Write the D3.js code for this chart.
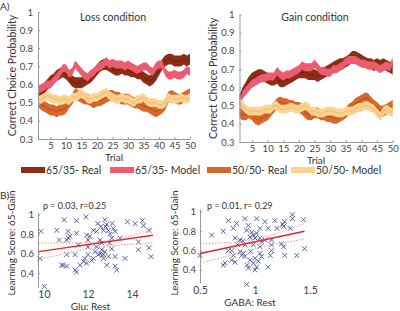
<!DOCTYPE html>
<html>
<head>
<meta charset="utf-8">
<script src="https://cdn.jsdelivr.net/npm/d3@7"></script>
<style>
  body { margin: 0; background: #fff; }
  text { font-family: Lato, "Open Sans", sans-serif; fill: #333; }
  .axis path, .axis line { stroke: #999; }
  .axis text { font-size: 9.5px; fill: #444; }
</style>
</head>
<body>
<div id="chart"></div>
<script>
'use strict';

// ---- data ----
const trials = d3.range(1, 51);

const lossReal65 = [0.55,0.57,0.58,0.60,0.62,0.63,0.65,0.66,0.67,0.66,
  0.64,0.62,0.61,0.61,0.61,0.62,0.63,0.64,0.66,0.68,
  0.70,0.71,0.71,0.70,0.69,0.68,0.68,0.69,0.68,0.68,
  0.67,0.67,0.66,0.66,0.64,0.63,0.62,0.63,0.65,0.68,
  0.71,0.73,0.74,0.74,0.73,0.73,0.73,0.74,0.73,0.74];
const lossModel65 = [0.57,0.58,0.59,0.60,0.60,0.62,0.64,0.66,0.69,0.69,
  0.66,0.67,0.71,0.69,0.67,0.65,0.64,0.66,0.67,0.69,
  0.70,0.71,0.73,0.71,0.72,0.71,0.71,0.71,0.70,0.71,
  0.70,0.69,0.68,0.69,0.70,0.70,0.68,0.67,0.70,0.71,
  0.71,0.67,0.65,0.65,0.66,0.65,0.65,0.66,0.68,0.67];
const lossReal50 = [0.51,0.49,0.48,0.47,0.46,0.46,0.45,0.46,0.46,0.47,
  0.50,0.52,0.55,0.54,0.53,0.52,0.52,0.51,0.50,0.51,
  0.51,0.52,0.53,0.54,0.54,0.53,0.53,0.52,0.52,0.52,
  0.51,0.50,0.50,0.49,0.48,0.48,0.47,0.46,0.45,0.46,
  0.47,0.49,0.53,0.54,0.53,0.52,0.52,0.53,0.54,0.55];
const lossModel50 = [0.51,0.52,0.53,0.54,0.53,0.52,0.52,0.51,0.52,0.52,
  0.51,0.53,0.53,0.54,0.55,0.54,0.52,0.52,0.53,0.53,
  0.54,0.55,0.56,0.54,0.53,0.52,0.52,0.53,0.52,0.52,
  0.51,0.50,0.52,0.52,0.53,0.51,0.50,0.50,0.50,0.49,
  0.49,0.50,0.53,0.52,0.52,0.52,0.53,0.52,0.52,0.53];

const gainReal65 = [0.53,0.57,0.60,0.63,0.65,0.66,0.67,0.67,0.66,0.65,
  0.64,0.64,0.65,0.63,0.63,0.64,0.65,0.66,0.67,0.68,
  0.68,0.68,0.67,0.67,0.67,0.66,0.67,0.68,0.69,0.70,
  0.71,0.72,0.73,0.73,0.74,0.75,0.77,0.77,0.76,0.75,
  0.74,0.73,0.73,0.72,0.73,0.72,0.73,0.72,0.71,0.70];
const gainModel65 = [0.51,0.56,0.58,0.60,0.62,0.63,0.64,0.65,0.65,0.66,
  0.66,0.66,0.69,0.67,0.66,0.67,0.67,0.68,0.69,0.70,
  0.72,0.71,0.71,0.71,0.73,0.71,0.69,0.69,0.68,0.68,
  0.70,0.70,0.71,0.72,0.74,0.75,0.75,0.75,0.74,0.73,
  0.73,0.72,0.72,0.72,0.71,0.70,0.71,0.72,0.71,0.74];
const gainReal50 = [0.46,0.45,0.45,0.46,0.45,0.43,0.42,0.43,0.44,0.45,
  0.47,0.49,0.51,0.52,0.51,0.51,0.50,0.50,0.49,0.49,
  0.48,0.46,0.45,0.45,0.46,0.46,0.45,0.45,0.44,0.44,
  0.43,0.43,0.44,0.45,0.46,0.48,0.49,0.51,0.52,0.53,
  0.54,0.54,0.52,0.50,0.49,0.47,0.47,0.48,0.49,0.50];
const gainModel50 = [0.52,0.50,0.48,0.47,0.47,0.47,0.47,0.47,0.48,0.48,
  0.48,0.50,0.50,0.48,0.48,0.48,0.49,0.49,0.48,0.48,
  0.49,0.50,0.49,0.47,0.47,0.46,0.46,0.46,0.47,0.47,
  0.47,0.46,0.46,0.46,0.47,0.47,0.47,0.48,0.49,0.49,
  0.50,0.50,0.49,0.48,0.46,0.44,0.47,0.48,0.47,0.46];

// legend order: 65/35 real, 65/35 model, 50/50 real, 50/50 model
const seriesNames = ["65/35- Real", "65/35- Model", "50/50- Real", "50/50- Model"];
const seriesColors = ["#8c2e15", "#ef5b6c", "#d9662b", "#fdd38c"];
const meanColors = ["#5a1606", "#c86a98", "#973a12", "#eaa08e"];
const bandHalf = [0.03, 0.022, 0.03, 0.024];   // half width of each shaded band
const drawOrder = [0, 2, 1, 3];                   // real bands under model bands

const probTicks = [0.3, 0.4, 0.5, 0.6, 0.7, 0.8, 0.9, 1];
const trialTicks = [5, 10, 15, 20, 25, 30, 35, 40, 45, 50];

// panel B
const gluX = [10.92,11.48,11.91,9.86,10.58,11.10,11.18,11.03,11.48,11.94,
  12.00,12.44,12.39,12.59,12.77,12.85,12.92,12.70,13.10,13.15,
  13.23,13.79,14.14,14.47,14.52,14.77,14.29,14.77,14.29,14.86,
  13.68,13.23,13.23,13.30,12.85,12.55,12.62,12.70,12.47,12.77,
  12.39,12.55,12.62,12.98,13.08,12.00,12.00,11.86,11.79,11.64,
  11.48,11.94,12.17,11.41,11.03,10.80,10.88,11.03,11.41,9.82,
  10.02,11.56,12.08,12.24,13.45,12.70,12.32,12.24,12.92,13.08,
  11.10,12.80,13.00,12.65,10.70];
const gluY = [0.95,0.94,0.98,0.83,0.84,0.83,0.78,0.74,0.81,0.79,
  0.74,0.91,0.83,0.88,0.95,0.90,0.84,0.84,0.91,0.86,
  0.83,0.93,0.91,0.94,0.89,0.84,0.72,0.66,0.64,0.57,
  0.55,0.57,0.47,0.43,0.48,0.60,0.64,0.59,0.59,0.62,
  0.67,0.74,0.71,0.71,0.76,0.67,0.59,0.55,0.52,0.48,
  0.41,0.50,0.53,0.59,0.59,0.48,0.48,0.47,0.43,0.55,
  0.26,0.69,0.78,0.84,0.76,0.55,0.62,0.55,0.57,0.65,
  0.76,0.88,0.80,0.58,0.74];
const gluFitX = [9.75, 14.95];
const gluFitY = [0.62, 0.79];
const gluCiX = [9.75, 10.75, 11.75, 12.6, 13.5, 14.3, 14.95];
const gluCiUp = [0.71, 0.71, 0.71, 0.72, 0.76, 0.81, 0.86];
const gluCiLo = [0.54, 0.59, 0.64, 0.67, 0.69, 0.70, 0.71];

const gabaX = [0.758,0.909,1.015,1.090,1.180,1.270,1.340,1.340,1.440,1.260,
  1.320,1.200,1.120,1.045,0.940,0.924,0.712,0.803,0.606,0.818,
  0.864,0.955,0.985,1.000,1.045,1.060,1.090,1.150,1.150,1.240,
  1.260,1.450,1.380,1.270,1.140,1.045,1.060,1.000,0.985,1.015,
  1.000,1.120,0.955,0.894,0.879,0.909,0.864,0.803,0.788,0.818,
  0.727,0.712,0.500,0.924,0.939,0.985,0.909,0.758,0.788,1.045,
  1.150,0.833,0.970,1.015,0.890,0.960,1.030,1.250,0.930,0.840];
const gabaY = [0.91,0.93,0.93,0.90,0.91,0.90,0.97,0.93,0.92,0.85,
  0.83,0.83,0.83,0.83,0.86,0.81,0.80,0.83,0.76,0.73,
  0.71,0.74,0.76,0.73,0.73,0.69,0.71,0.66,0.71,0.67,
  0.64,0.62,0.55,0.55,0.55,0.57,0.54,0.52,0.47,0.43,
  0.40,0.43,0.50,0.57,0.55,0.54,0.59,0.55,0.50,0.48,
  0.47,0.45,0.55,0.25,0.42,0.66,0.66,0.60,0.60,0.64,
  0.60,0.88,0.79,0.78,0.70,0.59,0.49,0.87,0.45,0.66];
const gabaFitX = [0.5, 1.45];
const gabaFitY = [0.57, 0.80];
const gabaCiX = [0.5, 0.7, 0.9, 1.0, 1.15, 1.3, 1.45];
const gabaCiUp = [0.67, 0.68, 0.70, 0.72, 0.76, 0.82, 0.88];
const gabaCiLo = [0.47, 0.53, 0.59, 0.62, 0.66, 0.69, 0.72];

const scoreTicks = [0.4, 0.6, 0.8, 1];

// ---- drawing ----
const svg = d3.select("#chart").append("svg")
  .attr("width", 400).attr("height", 311);

const probFmt = d => d === 1 ? "1" : d.toFixed(1);

function drawLinePanel(opts) {
  const x = d3.scaleLinear().domain([1, 50]).range(opts.xRange);
  const y = d3.scaleLinear().domain([0.3, 1]).range(opts.yRange);
  const g = svg.append("g");

  drawOrder.forEach(i => {
    const vals = opts.series[i];
    const area = d3.area()
      .x((d, k) => x(trials[k]))
      .y0(d => y(d - bandHalf[i]))
      .y1(d => y(d + bandHalf[i]));
    g.append("path").datum(vals)
      .attr("d", area)
      .attr("fill", seriesColors[i]);
    const line = d3.line()
      .x((d, k) => x(trials[k]))
      .y(d => y(d));
    g.append("path").datum(vals)
      .attr("d", line)
      .attr("fill", "none")
      .attr("stroke", meanColors[i])
      .attr("stroke-width", 0.6);
  });

  g.append("g").attr("class", "axis")
    .attr("transform", "translate(" + opts.xRange[0] + ",0)")
    .call(d3.axisLeft(y).tickValues(probTicks).tickFormat(probFmt)
      .tickSizeInner(-2).tickSizeOuter(0).tickPadding(5));
  g.append("g").attr("class", "axis")
    .attr("transform", "translate(0," + opts.yRange[0] + ")")
    .call(d3.axisBottom(x).tickValues(trialTicks)
      .tickSizeInner(-2).tickSizeOuter(0).tickPadding(3));

  g.append("text").attr("x", opts.titleX).attr("y", 21)
    .attr("text-anchor", "middle").style("font-size", "10.5px")
    .text(opts.title);
  g.append("text").attr("x", (opts.xRange[0] + opts.xRange[1]) / 2)
    .attr("y", opts.yRange[0] + 22)
    .attr("text-anchor", "middle").style("font-size", "10px")
    .text("Trial");
  g.append("text")
    .attr("transform", "translate(" + opts.ylabX + "," + ((opts.yRange[0] + opts.yRange[1]) / 2) + ") rotate(-90)")
    .attr("text-anchor", "middle").style("font-size", "10.5px")
    .text("Correct Choice Probability");
}

drawLinePanel({
  series: [lossReal65, lossModel65, lossReal50, lossModel50],
  xRange: [38, 190], yRange: [139, 12],
  title: "Loss condition", titleX: 113, ylabX: 16
});
drawLinePanel({
  series: [gainReal65, gainModel65, gainReal50, gainModel50],
  xRange: [239.5, 392.7], yRange: [142, 14.5],
  title: "Gain condition", titleX: 315, ylabX: 217
});

// legend
const legendX = [21, 110, 207, 291];
const legend = svg.append("g");
seriesNames.forEach((name, i) => {
  legend.append("rect").attr("x", legendX[i]).attr("y", 167)
    .attr("width", 24).attr("height", 6).attr("fill", seriesColors[i]);
  legend.append("text").attr("x", legendX[i] + 25).attr("y", 174)
    .style("font-size", "10.5px").text(name);
});

svg.append("text").attr("x", 0).attr("y", 10).style("font-size", "10px").text("A)");
svg.append("text").attr("x", 0).attr("y", 199).style("font-size", "10px").text("B)");

function drawScatter(opts) {
  const x = d3.scaleLinear().domain(opts.xDomain).range(opts.xRange);
  const y = d3.scaleLinear().domain(opts.yDomain).range(opts.yRange);
  const g = svg.append("g");
  const bottom = opts.yRange[0];

  g.append("g").attr("class", "axis")
    .attr("transform", "translate(" + opts.xRange[0] + ",0)")
    .call(d3.axisLeft(y).tickValues(scoreTicks).tickFormat(probFmt)
      .tickSizeInner(-2).tickSizeOuter(0).tickPadding(4));
  const xa = g.append("g").attr("class", "axis")
    .attr("transform", "translate(0," + bottom + ")")
    .call(d3.axisBottom(x).tickValues(opts.xTicks).tickFormat(d => String(d))
      .tickSize(0).tickPadding(4));
  xa.select(".domain").remove();
  xa.selectAll("text").style("font-size", "10.5px");

  const r = 2.4;
  g.selectAll("path.mark").data(opts.xs).enter().append("path")
    .attr("class", "mark")
    .attr("d", (d, i) => {
      const cx = x(d), cy = y(opts.ys[i]);
      return "M" + (cx - r) + "," + (cy - r) + "L" + (cx + r) + "," + (cy + r) +
        "M" + (cx - r) + "," + (cy + r) + "L" + (cx + r) + "," + (cy - r);
    })
    .attr("stroke", "#42509a").attr("stroke-width", 0.9).attr("fill", "none");

  const ci = d3.line().x((d, i) => x(opts.ciX[i])).y(d => y(d)).curve(d3.curveMonotoneX);
  [opts.ciUp, opts.ciLo].forEach(arr => {
    g.append("path").datum(arr).attr("d", ci)
      .attr("fill", "none").attr("stroke", "#f08888")
      .attr("stroke-width", 0.9).attr("stroke-dasharray", "1.5,1.5");
  });
  g.append("path").datum(opts.fitY)
    .attr("d", d3.line().x((d, i) => x(opts.fitX[i])).y(d => y(d)))
    .attr("stroke", "#e8242a").attr("stroke-width", 1.4).attr("fill", "none");

  g.append("text").attr("x", opts.annX).attr("y", 209)
    .style("font-size", "9px").text(opts.ann);
  g.append("text").attr("x", (opts.xRange[0] + opts.xRange[1]) / 2 - 5).attr("y", opts.xlabY)
    .attr("text-anchor", "middle").style("font-size", "10px").text(opts.xlab);
  g.append("text")
    .attr("transform", "translate(" + opts.ylabX + ",243) rotate(-90)")
    .attr("text-anchor", "middle").style("font-size", "10px")
    .text("Learning Score: 65-Gain");
}

drawScatter({
  xs: gluX, ys: gluY, xDomain: [9.73, 14.95], xRange: [38, 153],
  yDomain: [0.255, 1.03], yRange: [287, 212],
  xTicks: [10, 12, 14], fitX: gluFitX, fitY: gluFitY,
  ciX: gluCiX, ciUp: gluCiUp, ciLo: gluCiLo,
  ann: "p = 0.03, r=0.25", annX: 43, xlab: "Glu: Rest", xlabY: 310, ylabX: 15
});
drawScatter({
  xs: gabaX, ys: gabaY, xDomain: [0.5, 1.5], xRange: [200, 310],
  yDomain: [0.265, 1.03], yRange: [283, 209],
  xTicks: [0.5, 1, 1.5], fitX: gabaFitX, fitY: gabaFitY,
  ciX: gabaCiX, ciUp: gabaCiUp, ciLo: gabaCiLo,
  ann: "p = 0.01, r= 0.29", annX: 207, xlab: "GABA: Rest", xlabY: 306, ylabX: 178
});
</script>
</body>
</html>
